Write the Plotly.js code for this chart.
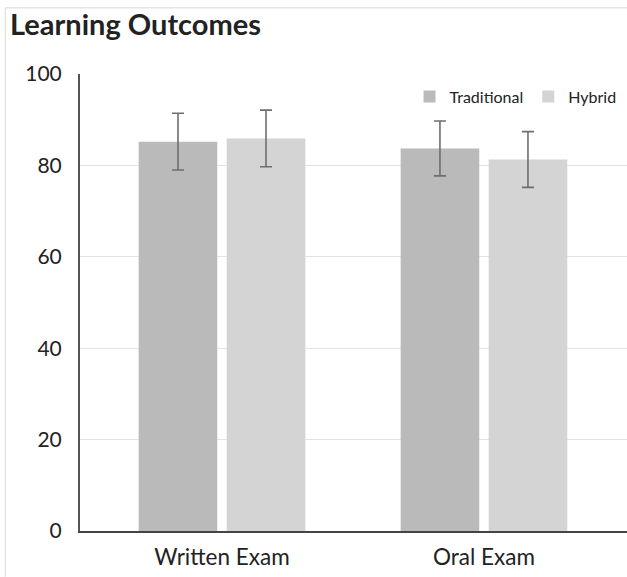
<!DOCTYPE html>
<html>
<head>
<meta charset="utf-8">
<script src="https://cdn.plot.ly/plotly-3.0.1.min.js"></script>
<style>html,body{margin:0;padding:0;background:#fff;}#chart{width:627px;height:577px;}</style>
</head>
<body>
<div id="chart"></div>
<script>
const categories = ["Written Exam", "Oral Exam"];
const seriesNames = ["Traditional", "Hybrid"];
const traditional = [85.2, 83.7];
const traditionalErr = [6.2, 6.0];
const hybrid = [85.9, 81.3];
const hybridErr = [6.2, 6.1];
const yTicks = [0, 20, 40, 60, 80, 100];

const errStyle = {type: "data", visible: true, color: "#6e6e6e", thickness: 1.6, width: 6};

const traces = [
  {type: "bar", name: seriesNames[0], x: categories, y: traditional,
   marker: {color: "#bababa"},
   error_y: Object.assign({array: traditionalErr}, errStyle)},
  {type: "bar", name: seriesNames[1], x: categories, y: hybrid,
   marker: {color: "#d4d4d4"},
   error_y: Object.assign({array: hybridErr}, errStyle)}
];

const layout = {
  width: 627, height: 577,
  margin: {l: 80, r: 0, t: 74, b: 46},
  paper_bgcolor: "#fff", plot_bgcolor: "#fff",
  font: {family: "Lato, Open Sans, sans-serif", color: "#222"},
  title: {text: "<b>Learning Outcomes</b>", x: 0.016, xanchor: "left", y: 0.957, yanchor: "middle",
          font: {size: 29, color: "#222", family: "Lato, Open Sans, sans-serif"}},
  barmode: "group", bargap: 0.328, bargroupgap: 0.107,
  xaxis: {type: "category", range: [-0.542, 1.546], showline: true, linecolor: "#444", linewidth: 2,
          ticks: "", tickfont: {size: 22.5, color: "#222"}, ticklabelstandoff: 5, showgrid: false, zeroline: false},
  yaxis: {range: [0, 100], tickvals: yTicks, ticktext: yTicks.map(String), showline: true, linecolor: "#555", linewidth: 2,
          ticks: "", tickfont: {size: 21, color: "#222"}, showgrid: true, gridcolor: "#e2e2e2", gridwidth: 1,
          zeroline: false, ticklabelstandoff: 12},
  showlegend: true,
  legend: {orientation: "h", x: 0.99, xanchor: "right", y: 0.988, yanchor: "top",
           font: {size: 16, color: "#222"}, bgcolor: "rgba(0,0,0,0)", itemwidth: 30, traceorder: "normal"},
  shapes: [
    {type: "line", xref: "paper", yref: "paper", x0: -0.1365, x1: -0.1365, y0: -0.1, y1: 1.145,
     line: {color: "#e4e4e4", width: 1.5}},
    {type: "line", xref: "paper", yref: "paper", x0: -0.1365, x1: 1.0, y0: 1.145, y1: 1.145,
     line: {color: "#e4e4e4", width: 1.5}}
  ]
};

Plotly.newPlot("chart", traces, layout, {displayModeBar: false, staticPlot: true});
</script>
</body>
</html>
